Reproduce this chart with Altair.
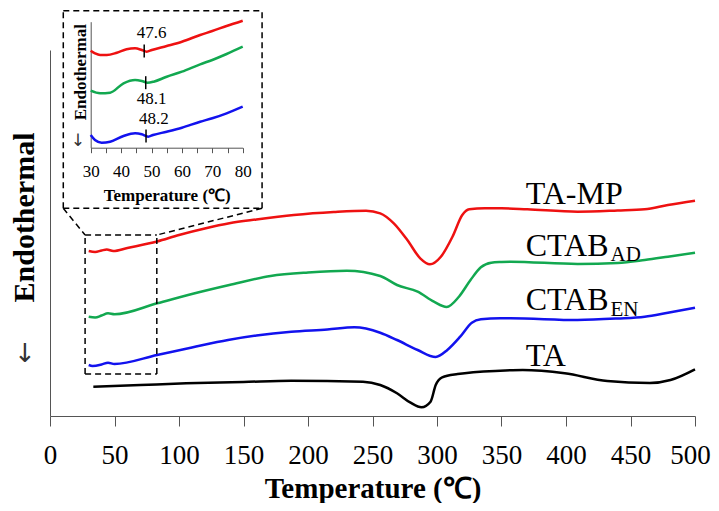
import altair as alt
import pandas as pd

FONT = "Liberation Serif"

# ---------------- main DSC curves (temperature in °C, offset heat-flow signal) ----------------
ta_mp_t = [30, 35, 40, 44, 49, 60, 83, 100, 120, 139, 160, 189, 220, 245, 256, 266.5, 277, 287, 294.5,
           303, 312, 319.6, 325, 337, 350, 370, 409, 440, 461, 479, 500]
ta_mp_v = [165, 164, 165.5, 166.5, 165, 168, 174.5, 181, 187.5, 192.7, 196.5, 201, 204, 205.3, 202.7,
           192.7, 176, 157.7, 151.7, 159.3, 179.3, 201, 206.7, 207.7, 207.7, 206.7, 204.3, 205.5, 206.7,
           211, 215.3]

ctab_ad_t = [30, 35, 40, 45, 50, 83, 110, 139, 171, 200, 230, 256, 269, 285, 297.6, 307.5, 317, 326,
             334, 342, 350, 357, 409, 440, 461, 479, 500]
ctab_ad_v = [99.3, 98.5, 100.5, 102.7, 101.7, 112.7, 122, 131, 140, 143.5, 145.3, 140, 131, 124.3, 114.3,
             109, 119.3, 136, 148.7, 153.3, 154, 154.3, 152, 153, 156, 159.3, 163.3]

ctab_en_t = [30, 33, 40, 45, 50, 83, 110, 138, 160, 187, 215, 236, 256, 269, 285, 299, 308, 318, 327,
             334, 349, 357, 409, 440, 461, 479, 500]
ctab_en_v = [51, 50, 51.5, 53.3, 52, 61, 68.5, 76, 80.5, 84.3, 86.5, 88.7, 83.3, 76, 66, 59, 66, 79.3,
             93.3, 96.7, 97.7, 97.7, 96, 97.5, 99.3, 103.3, 108.3]

ta_t = [33.6, 70, 105.6, 150, 187, 242.6, 256, 269, 279.5, 288, 295, 299, 304, 316, 349, 366.5, 399,
        432, 465, 481, 500]
ta_v = [29.3, 31, 32.7, 34, 35.3, 34.3, 31, 22.7, 13.3, 8.7, 14.3, 31, 38.7, 42, 45.3, 46, 42.7, 35,
        33, 36, 46.7]

# ---------------- inset curves (30-80 °C) ----------------
in_red_t = [30, 31.4, 33.1, 35.3, 38.6, 41.8, 44.6, 46.8, 48.4, 50.1, 55, 60, 66, 70, 74.7, 80]
in_red_v = [97, 94.4, 92.7, 92.7, 95, 98.4, 99.4, 97.7, 96, 97.7, 101.7, 106, 112.7, 116.7, 121.7, 127]

in_green_t = [30, 33.1, 36.4, 40.8, 44.6, 46.8, 48.7, 50.7, 55, 60, 66, 70, 74.7, 80]
in_green_v = [57, 54.4, 55, 64.4, 67.7, 66.7, 65, 66, 71, 76, 83.4, 87.7, 93.7, 101]

in_blue_t = [30, 31.4, 33.6, 36.4, 40.8, 44.6, 46.8, 48.9, 50.5, 55, 60, 66, 70, 74.7, 80]
in_blue_v = [12.7, 7.7, 5, 6, 11.7, 14.4, 13.4, 11, 12.7, 16, 20, 26, 29.4, 34.4, 41]

peak_temps = [47.6, 48.1, 48.2]
peak_signal = [96.7, 65, 11.7]
peak_text = ["47.6", "48.1", "48.2"]
peak_text_x = [50, 50, 50.8]
peak_text_v = [114.4, 48.4, 28.7]

series_names = ["TA-MP", "CTAB_AD", "CTAB_EN", "TA"]
series_colors = ["#ee1111", "#12a850", "#1212ee", "#000000"]

# ---------------- build tables ----------------
rows = []
for name, ts, vs in [("TA-MP", ta_mp_t, ta_mp_v), ("CTAB_AD", ctab_ad_t, ctab_ad_v),
                     ("CTAB_EN", ctab_en_t, ctab_en_v), ("TA", ta_t, ta_v)]:
    for t, v in zip(ts, vs):
        rows.append({"series": name, "T": t, "v": v})
main_df = pd.DataFrame(rows)

irows = []
for name, ts, vs in [("TA-MP", in_red_t, in_red_v), ("CTAB_AD", in_green_t, in_green_v),
                     ("CTAB_EN", in_blue_t, in_blue_v)]:
    for t, v in zip(ts, vs):
        irows.append({"series": name, "T": t, "v": v})
inset_df = pd.DataFrame(irows)

color_scale = alt.Scale(domain=series_names, range=series_colors)

main_x = alt.Scale(domain=[0, 500], nice=False, zero=False)
main_y = alt.Scale(domain=[0, 366], range=[406, 40], nice=False, zero=False)

x_axis = alt.Axis(orient="bottom", values=list(range(0, 501, 50)), tickSize=10, labelFontSize=27,
                  labelFont=FONT, labelColor="black", labelPadding=16, labelFlush=False,
                  labelOverlap=False, domainColor="#555", tickColor="#555", grid=False,
                  labelOffset={"condition": {"test": "datum.value == 500", "value": -5}, "value": 0},
                  title="Temperature (℃)", titleFont=FONT, titleFontSize=29, titleFontWeight="bold",
                  titleColor="black", titleY=81, titleBaseline="alphabetic")
y_axis = alt.Axis(orient="left", ticks=False, labels=False, grid=False, domainColor="#555",
                  title="Endothermal", titleFont=FONT, titleFontSize=30, titleFontWeight="bold",
                  titleColor="black", titleX=-26, titleY=207, titleAngle=270, titleAlign="center",
                  titleBaseline="middle")

main_lines = alt.Chart(main_df).mark_line(strokeWidth=2.5, interpolate="monotone").encode(
    x=alt.X("T:Q", scale=main_x, axis=x_axis),
    y=alt.Y("v:Q", scale=main_y, axis=y_axis),
    color=alt.Color("series:N", scale=color_scale, legend=None),
    detail="series:N",
)

# series labels
lab_df = pd.DataFrame({"txt": ["TA-MP", "CTAB", "CTAB", "TA"],
                       "T": [368.8, 368.8, 368.8, 368.8],
                       "v": [212, 160, 106, 50]})
sub_df = pd.DataFrame({"txt": ["AD", "EN"], "T": [434.5, 434.5], "v": [155, 100]})
labels = alt.Chart(lab_df).mark_text(font=FONT, fontSize=32, align="left", baseline="alphabetic",
                                     color="black").encode(
    x=alt.X("T:Q", scale=main_x), y=alt.Y("v:Q", scale=main_y), text="txt:N")
subs = alt.Chart(sub_df).mark_text(font=FONT, fontSize=21, align="left", baseline="alphabetic",
                                   color="black").encode(
    x=alt.X("T:Q", scale=main_x), y=alt.Y("v:Q", scale=main_y), text="txt:N")

# arrows next to the y titles
arrow_df = pd.DataFrame({"txt": ["↓", "↓"], "T": [-19.4, 21.7], "v": [62, 275], "size": [26, 17]})
arrows = alt.Chart(arrow_df).mark_text(font="DejaVu Sans", align="center", baseline="middle",
                                       color="#333").encode(
    x=alt.X("T:Q", scale=main_x), y=alt.Y("v:Q", scale=main_y), text="txt:N",
    size=alt.Size("size:Q", scale=None, legend=None))

# dashed zoom box, inset frame and connectors
zx0, zx1, zv0, zv1 = 27.2, 82.8, 42, 181
ix0, ix1, iv0, iv1 = 10.3, 164.4, 207.7, 405.3
seg_df = pd.DataFrame({
    "x": [zx0, zx0, zx0, zx1, ix0, ix0, ix0, ix1, ix0, ix1],
    "x2": [zx1, zx1, zx0, zx1, ix1, ix1, ix0, ix1, zx0, zx1],
    "y": [zv0, zv1, zv0, zv0, iv0, iv1, iv0, iv0, iv0, iv0],
    "y2": [zv0, zv1, zv1, zv1, iv0, iv1, iv1, iv1, zv1, zv1],
})
segs = alt.Chart(seg_df).mark_rule(strokeDash=[6, 4], color="black", strokeWidth=1.5).encode(
    x=alt.X("x:Q", scale=main_x), x2="x2:Q", y=alt.Y("y:Q", scale=main_y), y2="y2:Q")

main_layer = alt.layer(main_lines, labels, subs, arrows, segs)

# ---------------- inset ----------------
in_x = alt.Scale(domain=[30, 80], range=[40.7, 192.7], nice=False, zero=False)
in_y = alt.Scale(domain=[0, 126], range=[137.7, 11.7], nice=False, zero=False)

in_x_axis = alt.Axis(orient="bottom", offset=-268.3, values=list(range(30, 81, 5)),
                     labelExpr="datum.value % 10 == 0 ? datum.label : ''", tickSize=5,
                     labelFontSize=17, labelFont=FONT, labelColor="black", labelPadding=11,
                     labelFlush=False, labelOverlap=False, domainColor="#555", tickColor="#555",
                     grid=False, title="Temperature (℃)", titleFont=FONT, titleFontSize=17,
                     titleFontWeight="bold", titleColor="black", titleY=53,
                     titleBaseline="alphabetic")
in_y_axis = alt.Axis(orient="left", offset=-40.7, ticks=False, labels=False, grid=False,
                     domainColor="#555", title="Endothermal", titleFont=FONT, titleFontSize=17,
                     titleFontWeight="bold", titleColor="black", titleX=-10.7, titleY=61.7,
                     titleAngle=270, titleAlign="center", titleBaseline="middle")

in_lines = alt.Chart(inset_df).mark_line(strokeWidth=2.5, interpolate="monotone").encode(
    x=alt.X("T:Q", scale=in_x, axis=in_x_axis),
    y=alt.Y("v:Q", scale=in_y, axis=in_y_axis),
    color=alt.Color("series:N", scale=color_scale, legend=None),
    detail="series:N",
)
peak_df = pd.DataFrame({"T": peak_temps, "v": peak_signal,
                        "lo": [s - 6.5 for s in peak_signal], "hi": [s + 6.5 for s in peak_signal],
                        "txt": peak_text, "tx": peak_text_x, "tv": peak_text_v})
peak_ticks = alt.Chart(peak_df).mark_rule(color="black", strokeWidth=1.5).encode(
    x=alt.X("T:Q", scale=in_x), y=alt.Y("lo:Q", scale=in_y), y2="hi:Q")
peak_labels = alt.Chart(peak_df).mark_text(font=FONT, fontSize=17, align="center", baseline="middle",
                                           color="black").encode(
    x=alt.X("tx:Q", scale=in_x), y=alt.Y("tv:Q", scale=in_y), text="txt:N")

inset_layer = alt.layer(in_lines, peak_ticks, peak_labels)

chart = alt.layer(main_layer, inset_layer).resolve_scale(
    x="independent", y="independent", color="independent"
).properties(
    width=645, height=406,
    autosize=alt.AutoSizeParams(type="none"),
    padding={"left": 42, "top": 2, "right": 16, "bottom": 87},
).configure_view(stroke=None)

chart.save("out.html", embed_options={"renderer": "svg", "actions": False})
